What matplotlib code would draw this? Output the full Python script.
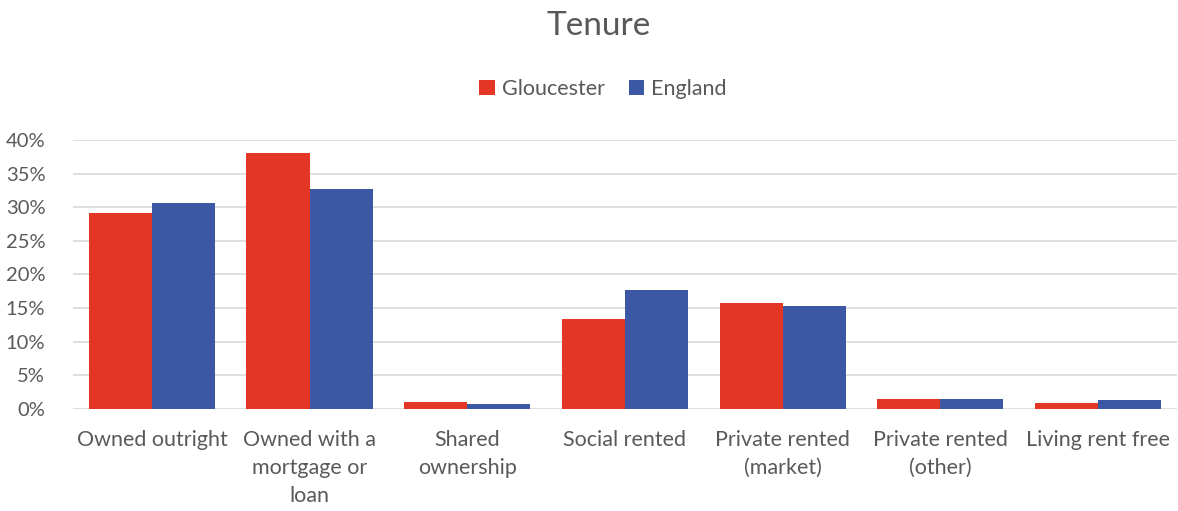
import numpy as np
import matplotlib
matplotlib.use("Agg")
import matplotlib.pyplot as plt

plt.rcParams["font.family"] = ["Lato", "DejaVu Sans"]

categories = ["Owned outright", "Owned with a\nmortgage or\nloan", "Shared\nownership",
              "Social rented", "Private rented\n(market)", "Private rented\n(other)",
              "Living rent free"]
gloucester = [29.2, 38.0, 1.0, 13.3, 15.8, 1.4, 0.85]
england = [30.6, 32.7, 0.7, 17.7, 15.3, 1.4, 1.25]
series_names = ["Gloucester", "England"]
colors = ["#E43624", "#3C57A4"]
text_col = "#595959"

fig = plt.figure(figsize=(11.78, 5.11), dpi=100)
ax = fig.add_axes([0.062, 0.2, 0.937, 0.526])

x = np.arange(len(categories))
w = 0.4
ax.bar(x - w / 2, gloucester, w, color=colors[0], label=series_names[0], zorder=2)
ax.bar(x + w / 2, england, w, color=colors[1], label=series_names[1], zorder=2)

ax.set_xlim(-0.5, len(categories) - 0.5)
ax.set_ylim(0, 40)
ax.set_yticks(np.arange(0, 41, 5))
ax.set_yticklabels([f"{v}%" for v in range(0, 41, 5)])
ax.set_xticks(x)
ax.set_xticklabels(categories, linespacing=1.5)
ax.grid(axis="y", color="#D9D9D9", lw=1.2, zorder=0)
for s in ax.spines.values():
    s.set_visible(False)
ax.tick_params(length=0, colors=text_col)
ax.tick_params(axis="x", pad=15, labelsize=15.5)
ax.tick_params(axis="y", pad=20, labelsize=14.5)

fig.text(0.508, 0.95, "Tenure", ha="center", va="center", fontsize=24, color=text_col)
fig.legend(loc="center", bbox_to_anchor=(0.512, 0.826), ncol=2, frameon=False,
           fontsize=15.5, labelcolor=text_col, handlelength=0.7, handleheight=0.7,
           handletextpad=0.35, columnspacing=1.1)

fig.savefig("out.png", dpi=100)
